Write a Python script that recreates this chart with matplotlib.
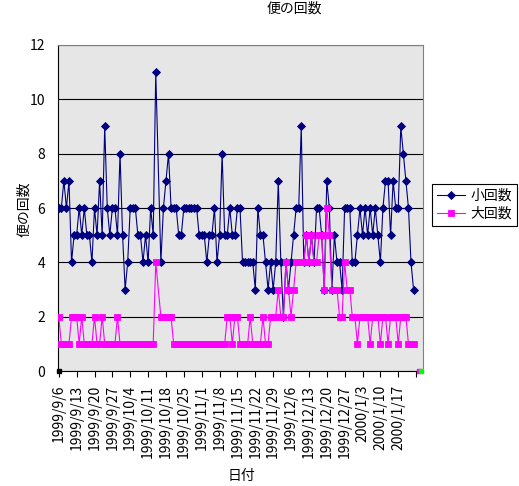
import matplotlib
matplotlib.use('Agg')
import matplotlib.pyplot as plt
import pandas as pd

plt.rcParams['font.family'] = ['Noto Sans CJK JP', 'DejaVu Sans']

# daily records from 1999/9/6; 1999/10/15 has no entry
dates = pd.date_range('1999-09-06', '2000-01-23').drop(pd.Timestamp('1999-10-15'))

small = [6, 6, 7, 6, 7, 4, 5, 5, 6, 5,
         6, 5, 5, 4, 6, 5, 7, 5, 9, 6,
         5, 6, 6, 5, 8, 5, 3, 4, 6, 6,
         6, 5, 5, 4, 5, 4, 6, 5, 11,
         4, 6, 7, 8, 6, 6, 6, 5, 5, 6,
         6, 6, 6, 6, 6, 5, 5, 5, 4, 5,
         5, 6, 4, 5, 8, 5, 5, 6, 5, 5,
         6, 6, 4, 4, 4, 4, 4, 3, 6, 5,
         5, 4, 3, 4, 3, 4, 7, 4, 2, 4,
         3, 4, 5, 6, 6, 9, 4, 5, 4, 5,
         4, 6, 6, 5, 3, 7, 6, 3, 5, 4,
         4, 3, 6, 6, 6, 4, 4, 5, 6, 5,
         6, 5, 6, 5, 6, 5, 4, 6, 7, 7,
         5, 7, 6, 6, 9, 8, 7, 6, 4, 3]

large = [2, 1, 1, 1, 1, 2, 2, 2, 1, 2,
         1, 1, 1, 1, 2, 1, 1, 2, 1, 1,
         1, 1, 1, 2, 1, 1, 1, 1, 1, 1,
         1, 1, 1, 1, 1, 1, 1, 1, 4,
         2, 2, 2, 2, 2, 1, 1, 1, 1, 1,
         1, 1, 1, 1, 1, 1, 1, 1, 1, 1,
         1, 1, 1, 1, 1, 1, 2, 2, 1, 2,
         2, 1, 1, 1, 1, 2, 1, 1, 1, 1,
         2, 1, 1, 2, 2, 2, 3, 2, 2, 4,
         3, 2, 3, 4, 4, 4, 4, 5, 4, 5,
         4, 4, 5, 5, 3, 6, 5, 3, 3, 3,
         2, 2, 4, 3, 3, 2, 2, 1, 2, 2,
         2, 2, 1, 2, 2, 2, 1, 2, 2, 1,
         2, 2, 2, 1, 2, 2, 2, 1, 1, 1]

# stray zero markers at the axis corners
stray_dates = pd.to_datetime(['1999-09-06', '2000-01-25', '2000-01-26'])
stray_vals = [0, 0, 0]
stray_cols = ['black', '#FF00FF', '#00FF00']

tick_dates = pd.date_range('1999-09-06', '2000-01-24', freq='7D')
tick_labels = ['1999/9/6', '1999/9/13', '1999/9/20', '1999/9/27', '1999/10/4',
               '1999/10/11', '1999/10/18', '1999/10/25', '1999/11/1', '1999/11/8',
               '1999/11/15', '1999/11/22', '1999/11/29', '1999/12/6', '1999/12/13',
               '1999/12/20', '1999/12/27', '2000/1/3', '2000/1/10', '2000/1/17', '']

fig = plt.figure(figsize=(5.19, 4.86), dpi=100)
ax = fig.add_axes([58 / 519, 115 / 486, 365 / 519, 326 / 486])
ax.set_facecolor('#E6E6E6')

ax.plot(dates, small, color='#000080', lw=0.8, marker='D', ms=3.6,
        mew=0.6, label='小回数', zorder=3)
ax.plot(dates, large, color='#FF00FF', lw=0.8, marker='s', ms=3.9,
        mew=0.6, label='大回数', zorder=4)
for d, v, c in zip(stray_dates, stray_vals, stray_cols):
    ax.plot([d], [v], marker='s', ms=2.8, color=c, ls='none',
            clip_on=False, zorder=5)

ax.set_xlim(dates[0] - pd.Timedelta(days=0.3), dates[0] + pd.Timedelta(days=142.7))
ax.set_ylim(0, 12)
ax.set_yticks(range(0, 13, 2))
ax.yaxis.grid(True, color='black', lw=0.8)
ax.set_axisbelow(True)

ax.set_xticks(tick_dates)
ax.set_xticklabels(tick_labels, rotation=90, fontsize=10)
ax.tick_params(axis='x', direction='out', length=4, width=0.8, pad=6)
ax.tick_params(axis='y', length=0, pad=9, labelsize=10)

for s in ['left', 'bottom']:
    ax.spines[s].set_color('black')
for s in ['top', 'right']:
    ax.spines[s].set_color('#808080')

fig.text(294 / 519, 1 - 9 / 486, '便の回数', ha='center', va='center', fontsize=10)
fig.text(24 / 519, 1 - 209 / 486, '便の回数', ha='center', va='center',
         rotation=90, fontsize=10)
fig.text(241 / 519, 1 - 476 / 486, '日付', ha='center', va='center', fontsize=10)

leg = ax.legend(loc='upper left', bbox_to_anchor=(432 / 519, 1 - 184 / 486),
                bbox_transform=fig.transFigure, fontsize=10, frameon=True,
                fancybox=False, edgecolor='black', framealpha=1,
                borderpad=0.35, handlelength=2.0, handletextpad=0.4,
                labelspacing=0.3, borderaxespad=0)
leg.get_frame().set_linewidth(0.8)

fig.savefig('out.png', dpi=100)
